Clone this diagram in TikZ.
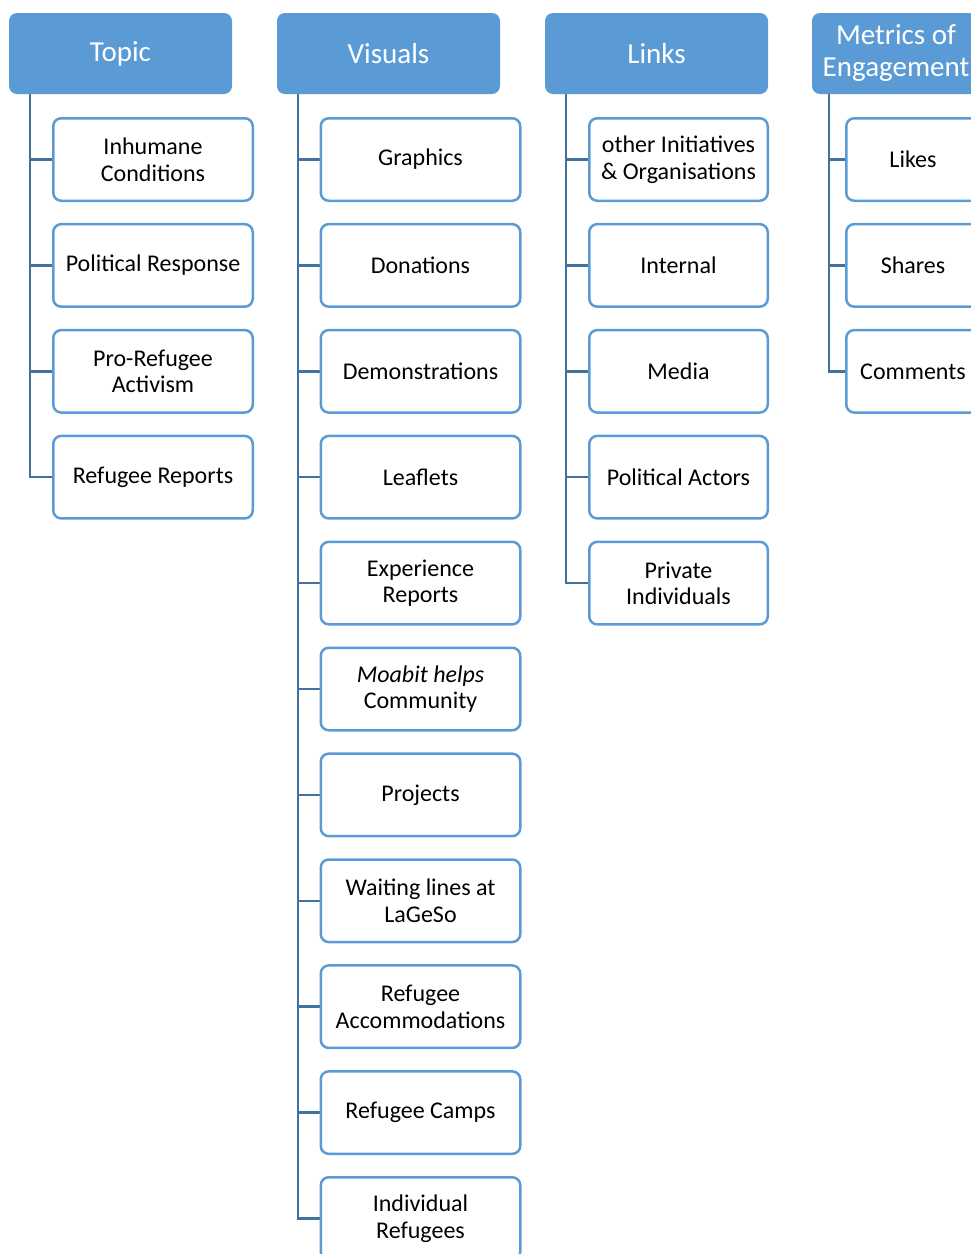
\documentclass[tikz,border=0pt]{standalone}
\usepackage{fontspec}
\setmainfont{Carlito}
\usetikzlibrary{backgrounds}
\definecolor{hdrblue}{HTML}{5B9BD5}
\definecolor{connblue}{HTML}{41719C}
\begin{document}
\begin{tikzpicture}[x=1pt,y=-1pt,
  hdrbox/.style={fill=hdrblue, rounded corners=8pt, minimum width=223pt, minimum height=81pt,
    text=white, font=\fontsize{29}{32}\selectfont, align=center, inner sep=0pt},
  childbox/.style={draw=hdrblue, line width=2.5pt, fill=white, rounded corners=8pt,
    minimum height=82.5pt, font=\fontsize{24}{26.5}\selectfont, align=center, inner sep=0pt},
  colA/.style={childbox, minimum width=199.5pt},
  colB/.style={childbox, minimum width=199.5pt},
  colC/.style={childbox, minimum width=178.5pt},
  colD/.style={childbox, minimum width=133.5pt},
  connline/.style={draw=connblue, line width=2.5pt}]
\useasboundingbox (0,0) rectangle (971,1254);
\clip (0,0) rectangle (971,1254);

% headers
\node[hdrbox] (topic) at (120.5,53.5) {Topic};
\node[hdrbox] (visuals) at (388.5,53.5) {Visuals};
\node[hdrbox] (links) at (656.5,53.5) {Links};
\node[hdrbox, minimum width=168pt] (metrics) at (896,53.5) {Metrics of\\Engagement};

% trunk coordinates
\coordinate (ta) at ([xshift=21pt]topic.south west);
\coordinate (tb) at ([xshift=21pt]visuals.south west);
\coordinate (tc) at ([xshift=21pt]links.south west);
\coordinate (td) at ([xshift=17pt]metrics.south west);

% Topic column
\node[colA] (a1) at (153,159.5) {Inhumane\\Conditions};
\node[colA] (a2) at (153,265.4) {Political Response};
\node[colA] (a3) at (153,371.3) {Pro-Refugee\\Activism};
\node[colA] (a4) at (153,477.2) {Refugee Reports};

% Visuals column
\node[colB] (b1) at (420.5,159.5) {Graphics};
\node[colB] (b2) at (420.5,265.4) {Donations};
\node[colB] (b3) at (420.5,371.3) {Demonstrations};
\node[colB] (b4) at (420.5,477.2) {Leaflets};
\node[colB] (b5) at (420.5,583.1) {Experience\\Reports};
\node[colB] (b6) at (420.5,689.0) {\textit{Moabit helps}\\Community};
\node[colB] (b7) at (420.5,794.9) {Projects};
\node[colB] (b8) at (420.5,900.8) {Waiting lines at\\LaGeSo};
\node[colB] (b9) at (420.5,1006.7) {Refugee\\Accommodations};
\node[colB] (b10) at (420.5,1112.6) {Refugee Camps};
\node[colB] (b11) at (420.5,1218.5) {Individual\\Refugees};

% Links column
\node[colC] (c1) at (678.5,159.5) {other Initiatives\\\& Organisations};
\node[colC] (c2) at (678.5,265.4) {Internal};
\node[colC] (c3) at (678.5,371.3) {Media};
\node[colC] (c4) at (678.5,477.2) {Political Actors};
\node[colC] (c5) at (678.5,583.1) {Private\\Individuals};

% Metrics column
\node[colD] (d1) at (913,159.5) {Likes};
\node[colD] (d2) at (913,265.4) {Shares};
\node[colD] (d3) at (913,371.3) {Comments};

\begin{pgfonlayer}{background}
  \draw[connline] (ta) |- (a4.west);
  \foreach \n in {a1,a2,a3} \draw[connline] (ta |- \n.west) -- (\n.west);
  \draw[connline] (tb) |- (b11.west);
  \foreach \n in {b1,b2,b3,b4,b5,b6,b7,b8,b9,b10} \draw[connline] (tb |- \n.west) -- (\n.west);
  \draw[connline] (tc) |- (c5.west);
  \foreach \n in {c1,c2,c3,c4} \draw[connline] (tc |- \n.west) -- (\n.west);
  \draw[connline] (td) |- (d3.west);
  \foreach \n in {d1,d2} \draw[connline] (td |- \n.west) -- (\n.west);
\end{pgfonlayer}
\end{tikzpicture}
\end{document}
